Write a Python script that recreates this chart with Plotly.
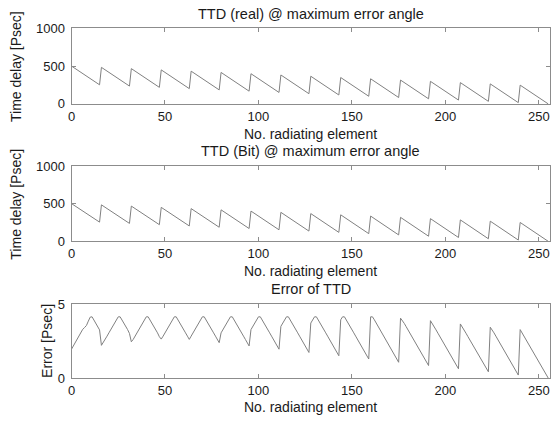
import plotly.graph_objects as go

# ---------------- data (16 sub-arrays x 16 elements) ----------------
real_rows = [
    [500.0, 483.5, 467.0, 450.5, 434.0, 417.5, 401.0, 384.5, 368.0, 351.5, 335.0, 318.5, 302.0, 285.5, 269.0, 252.5],
    [483.2, 466.7, 450.2, 433.7, 417.2, 400.7, 384.2, 367.7, 351.2, 334.7, 318.2, 301.7, 285.2, 268.7, 252.2, 235.7],
    [466.4, 449.9, 433.4, 416.9, 400.4, 383.9, 367.4, 350.9, 334.4, 317.9, 301.4, 284.9, 268.4, 251.9, 235.4, 218.9],
    [449.6, 433.1, 416.6, 400.1, 383.6, 367.1, 350.6, 334.1, 317.6, 301.1, 284.6, 268.1, 251.6, 235.1, 218.6, 202.1],
    [432.8, 416.3, 399.8, 383.3, 366.8, 350.3, 333.8, 317.3, 300.8, 284.3, 267.8, 251.3, 234.8, 218.3, 201.8, 185.3],
    [416.0, 399.5, 383.0, 366.5, 350.0, 333.5, 317.0, 300.5, 284.0, 267.5, 251.0, 234.5, 218.0, 201.5, 185.0, 168.5],
    [399.2, 382.7, 366.2, 349.7, 333.2, 316.7, 300.2, 283.7, 267.2, 250.7, 234.2, 217.7, 201.2, 184.7, 168.2, 151.7],
    [382.4, 365.9, 349.4, 332.9, 316.4, 299.9, 283.4, 266.9, 250.4, 233.9, 217.4, 200.9, 184.4, 167.9, 151.4, 134.9],
    [365.6, 349.1, 332.6, 316.1, 299.6, 283.1, 266.6, 250.1, 233.6, 217.1, 200.6, 184.1, 167.6, 151.1, 134.6, 118.1],
    [348.8, 332.3, 315.8, 299.3, 282.8, 266.3, 249.8, 233.3, 216.8, 200.3, 183.8, 167.3, 150.8, 134.3, 117.8, 101.3],
    [332.0, 315.5, 299.0, 282.5, 266.0, 249.5, 233.0, 216.5, 200.0, 183.5, 167.0, 150.5, 134.0, 117.5, 101.0, 84.5],
    [315.2, 298.7, 282.2, 265.7, 249.2, 232.7, 216.2, 199.7, 183.2, 166.7, 150.2, 133.7, 117.2, 100.7, 84.2, 67.7],
    [298.4, 281.9, 265.4, 248.9, 232.4, 215.9, 199.4, 182.9, 166.4, 149.9, 133.4, 116.9, 100.4, 83.9, 67.4, 50.9],
    [281.6, 265.1, 248.6, 232.1, 215.6, 199.1, 182.6, 166.1, 149.6, 133.1, 116.6, 100.1, 83.6, 67.1, 50.6, 34.1],
    [264.8, 248.3, 231.8, 215.3, 198.8, 182.3, 165.8, 149.3, 132.8, 116.3, 99.8, 83.3, 66.8, 50.3, 33.8, 17.3],
    [248.0, 231.5, 215.0, 198.5, 182.0, 165.5, 149.0, 132.5, 116.0, 99.5, 83.0, 66.5, 50.0, 33.5, 17.0, 0.5],
]

bit_rows = [
    [502.0, 485.7, 469.4, 453.1, 436.8, 420.6, 404.3, 387.9, 371.6, 355.4, 339.1, 322.6, 305.9, 289.2, 272.5, 255.8],
    [485.4, 469.1, 452.8, 436.5, 420.3, 404.0, 387.7, 371.4, 355.1, 338.8, 322.3, 305.6, 288.9, 272.2, 255.5, 238.7],
    [468.9, 452.5, 436.2, 420.0, 403.7, 387.4, 371.1, 354.8, 338.5, 322.0, 305.3, 288.6, 271.9, 255.2, 238.5, 221.7],
    [452.2, 435.9, 419.7, 403.4, 387.1, 370.8, 354.5, 338.2, 321.7, 305.0, 288.3, 271.6, 254.9, 238.2, 221.4, 204.7],
    [435.6, 419.4, 403.1, 386.8, 370.5, 354.2, 337.9, 321.4, 304.7, 288.0, 271.3, 254.6, 237.9, 221.1, 204.4, 187.7],
    [419.1, 402.8, 386.5, 370.2, 353.9, 337.6, 321.1, 304.4, 287.7, 271.0, 254.3, 237.6, 220.8, 204.1, 187.4, 170.7],
    [402.5, 386.2, 369.9, 353.6, 337.3, 320.8, 304.1, 287.4, 270.7, 254.0, 237.3, 220.5, 203.8, 187.1, 170.4, 153.7],
    [385.9, 369.6, 353.3, 337.0, 320.5, 303.8, 287.1, 270.4, 253.7, 237.0, 220.2, 203.5, 186.8, 170.1, 153.4, 136.6],
    [369.3, 353.0, 336.7, 320.2, 303.5, 286.8, 270.1, 253.4, 236.7, 219.9, 203.2, 186.5, 169.8, 153.1, 136.3, 119.6],
    [352.7, 336.4, 319.9, 303.2, 286.5, 269.8, 253.1, 236.4, 219.6, 202.9, 186.2, 169.5, 152.8, 136.0, 119.3, 102.6],
    [336.1, 319.6, 302.9, 286.2, 269.5, 252.8, 236.1, 219.3, 202.6, 185.9, 169.2, 152.5, 135.7, 119.0, 102.3, 85.6],
    [319.3, 302.6, 285.9, 269.2, 252.5, 235.7, 219.0, 202.3, 185.6, 168.9, 152.1, 135.4, 118.7, 102.0, 85.3, 68.6],
    [302.3, 285.6, 268.9, 252.2, 235.4, 218.7, 202.0, 185.3, 168.6, 151.8, 135.1, 118.4, 101.7, 85.0, 68.2, 51.5],
    [285.3, 268.6, 251.9, 235.1, 218.4, 201.7, 185.0, 168.3, 151.5, 134.8, 118.1, 101.4, 84.7, 67.9, 51.2, 34.5],
    [268.2, 251.6, 234.9, 218.1, 201.4, 184.7, 168.0, 151.3, 134.5, 117.8, 101.1, 84.4, 67.7, 50.9, 34.2, 17.5],
    [251.3, 234.6, 217.8, 201.1, 184.4, 167.7, 151.0, 134.2, 117.5, 100.8, 84.1, 67.4, 50.6, 33.9, 17.2, 0.5],
]

error_rows = [
    [1.96, 2.20, 2.42, 2.60, 2.84, 3.05, 3.30, 3.42, 3.56, 3.85, 4.12, 4.14, 3.92, 3.66, 3.52, 3.26],
    [2.22, 2.40, 2.62, 2.84, 3.06, 3.26, 3.50, 3.72, 3.94, 4.14, 4.14, 3.94, 3.72, 3.50, 3.28, 3.02],
    [2.46, 2.62, 2.84, 3.08, 3.28, 3.46, 3.72, 3.94, 4.14, 4.14, 3.94, 3.72, 3.50, 3.26, 3.06, 2.80],
    [2.64, 2.84, 3.06, 3.28, 3.50, 3.72, 3.94, 4.14, 4.14, 3.94, 3.72, 3.50, 3.28, 3.06, 2.84, 2.62],
    [2.84, 3.06, 3.28, 3.50, 3.72, 3.94, 4.14, 4.14, 3.94, 3.72, 3.50, 3.28, 3.06, 2.84, 2.62, 2.40],
    [3.06, 3.28, 3.50, 3.72, 3.94, 4.14, 4.14, 3.94, 3.72, 3.50, 3.28, 3.06, 2.84, 2.62, 2.40, 2.18],
    [3.28, 3.50, 3.72, 3.94, 4.14, 4.14, 3.94, 3.72, 3.50, 3.28, 3.06, 2.84, 2.62, 2.40, 2.18, 1.96],
    [3.50, 3.72, 3.94, 4.14, 4.14, 3.94, 3.72, 3.50, 3.28, 3.06, 2.84, 2.62, 2.40, 2.18, 1.96, 1.74],
    [3.72, 3.94, 4.14, 4.14, 3.94, 3.72, 3.50, 3.28, 3.06, 2.84, 2.62, 2.40, 2.18, 1.96, 1.74, 1.52],
    [3.94, 4.14, 4.14, 3.94, 3.72, 3.50, 3.28, 3.06, 2.84, 2.62, 2.40, 2.18, 1.96, 1.74, 1.52, 1.30],
    [4.14, 4.14, 3.94, 3.72, 3.50, 3.28, 3.06, 2.84, 2.62, 2.40, 2.18, 1.96, 1.74, 1.52, 1.30, 1.08],
    [4.05, 3.90, 3.70, 3.48, 3.26, 3.04, 2.82, 2.60, 2.38, 2.16, 1.94, 1.72, 1.50, 1.28, 1.06, 0.86],
    [3.88, 3.70, 3.48, 3.26, 3.04, 2.82, 2.60, 2.38, 2.16, 1.94, 1.72, 1.50, 1.28, 1.06, 0.84, 0.64],
    [3.66, 3.48, 3.26, 3.04, 2.82, 2.60, 2.38, 2.16, 1.94, 1.72, 1.50, 1.28, 1.06, 0.84, 0.64, 0.44],
    [3.44, 3.28, 3.06, 2.84, 2.62, 2.40, 2.18, 1.96, 1.74, 1.52, 1.30, 1.08, 0.86, 0.64, 0.42, 0.22],
    [3.28, 3.06, 2.84, 2.62, 2.40, 2.18, 1.96, 1.74, 1.52, 1.30, 1.08, 0.86, 0.64, 0.42, 0.20, 0.02],
]

x_ticks = [0, 50, 100, 150, 200, 250]
y_ticks_delay = [0, 500, 1000]
y_ticks_error = [0, 5]

titles = ["TTD (real) @ maximum error angle", "TTD (Bit) @ maximum error angle", "Error of TTD"]
x_label = "No. radiating element"
y_labels = ["Time delay [Psec]", "Time delay [Psec]", "Error [Psec]"]

real_delay = [v for row in real_rows for v in row]
bit_delay = [v for row in bit_rows for v in row]
error_ttd = [v for row in error_rows for v in row]
element = list(range(len(real_delay)))

# ---------------- figure ----------------
W, H = 560, 422
FONT = "Liberation Sans, Arial, Helvetica, sans-serif"
FS_TICK = 13
FS_TITLE = 14.5
FS_LAB = 14
TXT = "#1a1a1a"
LINE = "#808080"
BOX = "#8c8c8c"

x_dom = [68 / W, 550 / W]
boxes = [(22.0, 100.5), (165.0, 243.0), (308.0, 385.0)]  # top/bottom px
title_y = [7.5, 149.0, 292.5]
xlab_y = [131.5, 274.0, 414.5]
ylab_x = [12, 12, 43]
y_doms = [[1 - b / H, 1 - t / H] for t, b in boxes]

fig = go.Figure()
series = [real_delay, bit_delay, error_ttd]
for k, ys in enumerate(series):
    sfx = "" if k == 0 else str(k + 1)
    fig.add_trace(go.Scatter(x=element, y=ys, mode="lines",
                             line=dict(color=LINE, width=1),
                             xaxis="x" + sfx, yaxis="y" + sfx,
                             showlegend=False, hoverinfo="skip"))

axis_common = dict(showline=True, linecolor=BOX, linewidth=1, mirror="ticks",
                   ticks="inside", ticklen=4, tickcolor=BOX, tickwidth=1,
                   showgrid=False, zeroline=False,
                   tickfont=dict(family=FONT, size=FS_TICK, color=TXT))

layout = dict(width=W, height=H, margin=dict(l=0, r=0, t=0, b=0),
              paper_bgcolor="white", plot_bgcolor="white",
              font=dict(family=FONT, color=TXT), showlegend=False)

y_ranges = [[0, 1000], [0, 1000], [0, 5]]
y_tickvals = [y_ticks_delay, y_ticks_delay, y_ticks_error]
for k in range(3):
    sfx = "" if k == 0 else str(k + 1)
    layout["xaxis" + sfx] = dict(axis_common, domain=x_dom, range=[0, 256],
                                 tickvals=x_ticks, anchor="y" + sfx, ticklabelstandoff=0)
    layout["yaxis" + sfx] = dict(axis_common, domain=y_doms[k], range=y_ranges[k],
                                 tickvals=y_tickvals[k], anchor="x" + sfx, ticklabelstandoff=3)

fig.update_layout(**layout)

cx = (x_dom[0] + x_dom[1]) / 2
for k in range(3):
    t, b = boxes[k]
    fig.add_annotation(text=titles[k], x=cx, y=1 - title_y[k] / H, xref="paper", yref="paper",
                       showarrow=False, xanchor="center", yanchor="middle", borderpad=0,
                       font=dict(family=FONT, size=FS_TITLE, color=TXT))
    fig.add_annotation(text=x_label, x=cx, y=1 - xlab_y[k] / H, xref="paper", yref="paper",
                       showarrow=False, xanchor="center", yanchor="middle", borderpad=0,
                       font=dict(family=FONT, size=FS_LAB, color=TXT))
    fig.add_annotation(text=y_labels[k], x=ylab_x[k] / W, y=1 - ((t + b) / 2) / H,
                       xref="paper", yref="paper", textangle=-90, borderpad=0,
                       showarrow=False, xanchor="center", yanchor="middle",
                       font=dict(family=FONT, size=FS_LAB, color=TXT))

fig.write_html("out.html", config={"displayModeBar": False},
               post_script="document.body.style.margin='0';document.body.style.overflow='hidden';")
